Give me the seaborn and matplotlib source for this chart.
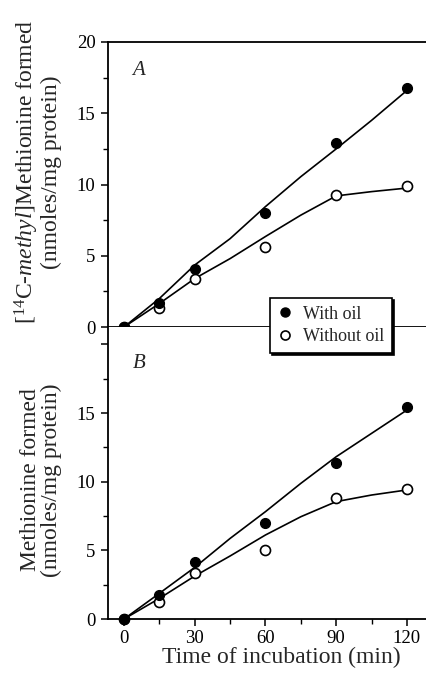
import matplotlib
matplotlib.use("Agg")
import matplotlib.pyplot as plt
from matplotlib.lines import Line2D
import seaborn as sns
import pandas as pd

# ---- data ----
time_pts = [0, 15, 30, 60, 90, 120]
a_with_oil = [0, 1.65, 4.05, 8.0, 12.9, 16.8]
a_without_oil = [0, 1.3, 3.35, 5.6, 9.25, 9.9]
b_with_oil = [0, 1.75, 4.13, 6.97, 11.34, 15.47]
b_without_oil = [0, 1.26, 3.37, 5.03, 8.79, 9.47]

# fitted (hand-drawn) curves
fit_time = [0, 15, 30, 45, 60, 75, 90, 105, 120]
a_fit_with = [0, 2.0, 4.35, 6.2, 8.45, 10.55, 12.5, 14.5, 16.6]
a_fit_without = [0, 1.65, 3.4, 4.8, 6.35, 7.85, 9.2, 9.5, 9.75]
b_fit_with = [0, 1.87, 3.76, 5.87, 7.82, 9.88, 11.82, 13.52, 15.22]
b_fit_without = [0, 1.5, 3.13, 4.59, 6.12, 7.45, 8.55, 9.03, 9.4]

legend_labels = ["With oil", "Without oil"]
panel_labels = ["A", "B"]
xlabel = "Time of incubation (min)"
ylabel_a = "[$^{14}$C-$\\mathit{methyl}$]Methionine formed\n(nmoles/mg protein)"
ylabel_b = "Methionine formed\n(nmoles/mg protein)"

sns.set_style("ticks")
plt.rcParams["font.family"] = ["Liberation Serif", "DejaVu Serif"]
plt.rcParams["mathtext.fontset"] = "custom"
plt.rcParams["mathtext.rm"] = "Liberation Serif"
plt.rcParams["mathtext.it"] = "Liberation Serif:italic"

W, H = 426, 677
fig = plt.figure(figsize=(W / 100, H / 100), dpi=100)
left = 108 / W
ax_a = fig.add_axes([left, (H - 327) / H, 1 - left, 285 / H])
ax_b = fig.add_axes([left, (H - 619) / H, 1 - left, 292 / H])

lw_line = 1.2
msize = 52


def draw(ax, fw, fwo, pw, pwo):
    df_fit = pd.DataFrame({"t": fit_time, "w": fw, "wo": fwo})
    df_pts = pd.DataFrame({"t": time_pts, "w": pw, "wo": pwo})
    sns.lineplot(data=df_fit, x="t", y="w", ax=ax, color="black", lw=lw_line,
                 clip_on=False, zorder=2)
    sns.lineplot(data=df_fit, x="t", y="wo", ax=ax, color="black", lw=lw_line,
                 clip_on=False, zorder=2)
    sns.scatterplot(data=df_pts, x="t", y="wo", ax=ax, s=msize, marker="o",
                    facecolor="white", edgecolor="black", linewidth=1.2,
                    clip_on=False, zorder=4)
    sns.scatterplot(data=df_pts, x="t", y="w", ax=ax, s=msize, marker="o",
                    color="black", edgecolor="black", linewidth=0.8,
                    clip_on=False, zorder=5)
    ax.set_xlim(-6.8, 128.1)
    for side in ["left", "top", "bottom"]:
        ax.spines[side].set_linewidth(1.3)
        ax.spines[side].set_color("black")
    ax.spines["right"].set_visible(False)
    ax.tick_params(axis="y", which="major", direction="out", length=5,
                   width=1.1, labelsize=13.5, pad=4, colors="black")
    ax.tick_params(axis="y", which="minor", direction="out", length=3.5,
                   width=1.0, colors="black")
    ax.set_yticks([2.5, 7.5, 12.5, 17.5], minor=True)


draw(ax_a, a_fit_with, a_fit_without, a_with_oil, a_without_oil)
draw(ax_b, b_fit_with, b_fit_without, b_with_oil, b_without_oil)

# panel A
ax_a.set_ylim(0, 20)
ax_a.set_yticks([0, 5, 10, 15, 20])
ax_a.set_xticks(time_pts)
ax_a.set_xticklabels([])
ax_a.tick_params(axis="x", which="major", direction="out", length=4,
                 width=1.0, colors="black")
ax_a.set_xlabel("")
ax_a.set_ylabel(ylabel_a, fontsize=17, linespacing=1.0)
ax_a.yaxis.set_label_coords(-0.145, 0.544)

# panel B
ax_b.set_ylim(0, 21.27)
ax_b.set_yticks([0, 5, 10, 15, 20])
ax_b.set_yticklabels(["0", "5", "10", "15", ""])
ax_b.set_xticks([0, 30, 60, 90, 120])
ax_b.set_xticks([15, 45, 75, 105], minor=True)
ax_b.spines["top"].set_visible(False)
ax_b.tick_params(axis="x", which="major", direction="out", length=5,
                 width=1.1, labelsize=13.5, pad=3, colors="black")
ax_b.tick_params(axis="x", which="minor", direction="out", length=3.5,
                 width=1.0, colors="black")
ax_b.set_xlabel(xlabel, fontsize=17)
ax_b.xaxis.set_label_coords(0.544, -0.095)
ax_b.set_ylabel(ylabel_b, fontsize=17, linespacing=1.0)
ax_b.yaxis.set_label_coords(-0.145, 0.476)

ax_a.text(0.075, 0.884, panel_labels[0], transform=ax_a.transAxes,
          fontsize=15, style="italic", va="baseline", ha="left")
ax_b.text(0.079, 0.86, panel_labels[1], transform=ax_b.transAxes,
          fontsize=15, style="italic", va="baseline", ha="left")

handles = [
    Line2D([], [], ls="none", marker="o", markersize=6.5, markerfacecolor="black",
           markeredgecolor="black"),
    Line2D([], [], ls="none", marker="o", markersize=6.5, markerfacecolor="white",
           markeredgecolor="black", markeredgewidth=1.2),
]
leg = fig.legend(handles, legend_labels, loc="upper left",
                 bbox_to_anchor=(270 / W, 1 - 298 / H), borderaxespad=0,
                 frameon=True, fancybox=False, framealpha=1, edgecolor="black",
                 shadow={"color": "black", "alpha": 1, "ox": 1.5, "oy": -1.5},
                 fontsize=13, handlelength=0.8, handletextpad=0.6,
                 borderpad=0.42, labelspacing=0.3)
leg.get_frame().set_linewidth(1.2)

fig.savefig("out.png", dpi=100)
